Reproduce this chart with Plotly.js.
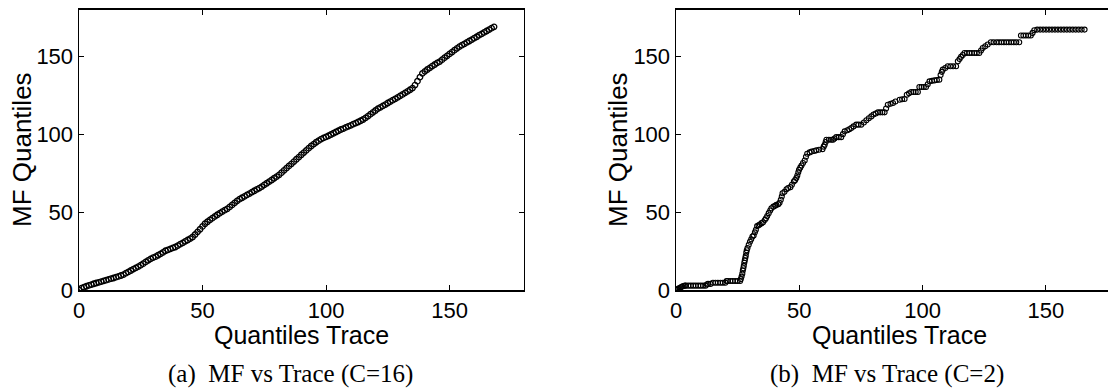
<!DOCTYPE html>
<html>
<head>
<meta charset="utf-8">
<script src="https://cdn.plot.ly/plotly-3.0.1.min.js"></script>
<style>
html,body{margin:0;padding:0;background:#fff;overflow:hidden;}
#chart{width:1108px;height:389px;}
</style>
</head>
<body>
<div id="chart"></div>
<script>
// (a) MF vs Trace (C=16) : quantiles of trace (x) vs quantiles of MF (y)
const traceQ16 = [0,1,2,3,4,5,6,7,8,9,10,11,12,13,14,15,16,17,18,19,20,21,22,23,24,25,26,27,28,29,30,31,32,33,34,35,36,37,38,39,40,41,42,43,44,45,46,47,48,49,50,51,52,53,54,55,56,57,58,59,60,61,62,63,64,65,66,67,68,69,70,71,72,73,74,75,76,77,78,79,80,81,82,83,84,85,86,87,88,89,90,91,92,93,94,95,96,97,98,99,100,101,102,103,104,105,106,107,108,109,110,111,112,113,114,115,116,117,118,119,120,121,122,123,124,125,126,127,128,129,130,131,132,133,134,135,136,137,138,139,140,141,142,143,144,145,146,147,148,149,150,151,152,153,154,155,156,157,158,159,160,161,162,163,164,165,166,167,168];
const mfQ16 = [0,1.2,1.8,2.4,3.0,3.5,4.0,4.5,4.9,5.4,5.9,6.3,6.8,7.3,7.7,8.2,8.7,9.3,9.9,10.8,11.6,12.5,13.4,14.2,15.0,15.9,16.9,18.0,19.0,20.0,20.8,21.4,22.3,23.2,24.1,25.2,25.8,26.4,27.0,27.6,28.5,29.4,30.3,31.2,32.1,33.0,34.0,35.6,37.3,39.0,40.8,42.5,43.8,45.0,46.1,47.2,48.3,49.3,50.3,51.2,52.1,53.3,54.6,55.9,57.2,58.3,59.2,60.1,61.0,61.9,62.8,63.7,64.6,65.4,66.4,67.5,68.5,69.6,70.6,71.7,72.8,73.9,75.3,76.8,78.2,79.6,81.0,82.4,83.9,85.3,86.8,88.2,89.6,91.0,92.4,93.6,94.8,95.8,96.8,97.6,98.2,99.0,99.8,100.6,101.4,102.2,103.0,103.6,104.3,105.0,105.7,106.4,107.1,107.8,108.6,109.4,110.5,111.6,112.8,114.0,115.2,116.4,117.2,118.1,119.0,120.0,120.9,121.8,122.7,123.6,124.6,125.5,126.5,127.5,128.5,129.6,131.5,134.0,136.6,139.0,140.3,141.5,142.6,143.7,144.7,145.7,146.6,147.8,149.1,150.3,151.5,152.7,153.9,155.1,156.2,157.1,158.0,158.9,159.8,160.7,161.6,162.5,163.5,164.4,165.3,166.2,167.1,168.0,168.9];

// (b) MF vs Trace (C=2)
const traceQ2 = [0,0.5,1,1.5,2,2.5,3,3.6,4,5,6,7,8,9,10,11,12,12.5,13,14,15,16,17,18,19,20,20.5,21,22,23,24,25,26,26.3,26.6,26.9,27.1,27.3,27.5,27.7,27.9,28.1,28.3,28.5,28.7,29,29.5,30,30.5,31,31.5,32,32.4,32.9,33.5,34,34.7,35.3,36,36.5,37,37.6,38.2,38.7,39.5,40.2,40.7,41.5,42,42.5,42.9,43.2,44,44.8,45.5,46.4,47,47.8,48.3,48.8,49.2,49.6,49.9,50.4,50.9,51.5,52.2,52.7,53.2,54.2,55,56,56.9,58,59.4,59.9,60.3,60.7,61,62,63,63.7,64.3,65,66,67,67.7,68.4,69.5,70.3,71.1,72,73.1,74,75.1,76.2,77.2,78.2,79.2,80.1,81,81.9,82.8,83.7,84.6,85.2,85.9,87,88,89,90.7,91.7,92.7,93.6,94.5,95.4,96.3,97.2,98.1,98.7,99.6,100.5,101.4,102.1,102.8,103.8,104.8,105.8,106.8,107.3,107.8,108.2,109.2,110.2,111.3,112.4,113.6,114.3,115,115.6,116.3,117,118,119,120,121,122,123,123.7,124.4,125.4,126.4,127.7,128.8,130,131,132,133,134,135,136,137,138,139.2,139.9,140.9,141.9,142.9,143.9,144.6,145.3,146.5,147.7,148.9,150.1,151.3,152.5,153.7,154.9,156.1,157.3,158.5,159.7,160.9,162.1,163.3,164.5,165.7,167];
const mfQ2 = [0,0.4,0.9,1.3,1.8,2.2,2.6,2.8,2.8,2.8,2.8,2.8,2.8,2.8,2.8,2.8,2.8,3.5,3.9,3.9,4.7,4.7,4.7,4.7,4.7,4.7,5.8,5.8,5.8,5.8,5.8,5.8,5.8,7,8.6,10.5,12.5,14,15.5,17.5,19,20.5,22,24,25.5,27,29,31,32.5,34.3,35,37,38.6,41,41.5,42,42.9,43.5,45,46,47.5,49.3,51,52.5,53.5,54,54.6,55,56,57.9,60,62.1,63,64.7,65.5,66,67.5,69.6,70.5,71.8,73.5,75.5,77.1,78.5,79.9,81.5,83.1,85.5,87.4,88.3,88.8,89.2,89.6,90,90.4,92,93.2,95,96.4,96.4,96.4,96.4,97.2,98.1,98.1,98.1,100,101.8,102.5,103.2,103.9,105,106.1,106.1,106.1,107.5,108.9,110.2,111.4,112.6,113.3,114,114,114,114,116.5,118.9,119.5,120,121,122.1,122.4,122.6,125.3,126.2,127.1,127.1,127.1,127.1,130.3,130.3,130.3,130.3,132,133.9,134.2,134.5,134.8,135,138,140,141.4,142.5,143.6,143.6,143.6,143.6,146.8,148.2,149.6,150.8,152.1,152.1,152.1,152.1,152.1,152.1,152.1,153.7,155.3,156.4,157.5,159,159,159,159,159,159,159,159,159,159,159,159,163.3,163.3,163.3,163.3,163.3,165,166.7,167.1,167.1,167.1,167.1,167.1,167.1,167.1,167.1,167.1,167.1,167.1,167.1,167.1,167.1,167.1,167.1,167.1];

const tickVals = [0, 50, 100, 150];
const xTitle = 'Quantiles Trace';
const yTitle = 'MF Quantiles';
const captionA = '(a)\u00a0 MF vs Trace (C=16)';
const captionB = '(b)\u00a0 MF vs Trace (C=2)';

const W = 1108, H = 389;
const markerA = {symbol: 'circle-open', size: 5.5, color: '#000', line: {color: '#000', width: 1.3}};
const markerB = {symbol: 'circle-open', size: 5, color: '#000', line: {color: '#000', width: 1.1}};

const traces = [
  {x: traceQ16, y: mfQ16, type: 'scatter', mode: 'markers', marker: markerA, xaxis: 'x', yaxis: 'y', showlegend: false, hoverinfo: 'x+y'},
  {x: traceQ2, y: mfQ2, type: 'scatter', mode: 'markers', marker: markerB, xaxis: 'x2', yaxis: 'y2', showlegend: false, hoverinfo: 'x+y'}
];

const tickFont = {family: 'Liberation Sans, Arial, sans-serif', size: 22, color: '#000'};
function axis(domain, range, mirror, anchor) {
  return {
    domain: domain, range: range, anchor: anchor,
    tickvals: tickVals, ticktext: tickVals.map(String),
    ticks: 'inside', ticklen: 5, tickwidth: 1, tickcolor: '#000',
    showline: true, linecolor: '#000', linewidth: 1.5, mirror: mirror,
    showgrid: false, zeroline: false, tickfont: tickFont,
    ticklabelstandoff: 0, fixedrange: true
  };
}
const yDom = [(H - 290) / H, (H - 9.5) / H];
const titleFont = {family: 'Liberation Sans, Arial, sans-serif', size: 25, color: '#000'};
const yTitleFont = {family: 'Liberation Sans, Arial, sans-serif', size: 26, color: '#000'};
const capFont = {family: 'Liberation Serif, Times New Roman, serif', size: 25, color: '#000'};
const layout = {
  width: W, height: H,
  margin: {l: 0, r: 0, t: 0, b: 0, pad: 0},
  paper_bgcolor: '#fff', plot_bgcolor: '#fff',
  xaxis: axis([79 / W, 523.7 / W], [0, 180], 'ticks', 'y'),
  yaxis: axis(yDom, [0, 180], 'ticks', 'x'),
  xaxis2: axis([676 / W, 1], [0, 175.2], 'ticks', 'y2'),
  yaxis2: axis(yDom, [0, 180], false, 'x2'),
  annotations: [
    {text: yTitle, xref: 'paper', yref: 'paper', x: 22 / W, y: (H - 150) / H, xanchor: 'center', yanchor: 'middle', textangle: -90, showarrow: false, font: yTitleFont},
    {text: yTitle, xref: 'paper', yref: 'paper', x: 618 / W, y: (H - 150) / H, xanchor: 'center', yanchor: 'middle', textangle: -90, showarrow: false, font: yTitleFont},
    {text: xTitle, xref: 'paper', yref: 'paper', x: 301 / W, y: (H - 335) / H, xanchor: 'center', yanchor: 'middle', showarrow: false, font: titleFont},
    {text: xTitle, xref: 'paper', yref: 'paper', x: 899.5 / W, y: (H - 335) / H, xanchor: 'center', yanchor: 'middle', showarrow: false, font: titleFont},
    {text: captionA, xref: 'paper', yref: 'paper', x: 290 / W, y: (H - 374) / H, xanchor: 'center', yanchor: 'middle', showarrow: false, font: capFont},
    {text: captionB, xref: 'paper', yref: 'paper', x: 887.5 / W, y: (H - 374) / H, xanchor: 'center', yanchor: 'middle', showarrow: false, font: capFont}
  ]
};

Plotly.newPlot('chart', traces, layout, {staticPlot: true, displayModeBar: false});
</script>
</body>
</html>
